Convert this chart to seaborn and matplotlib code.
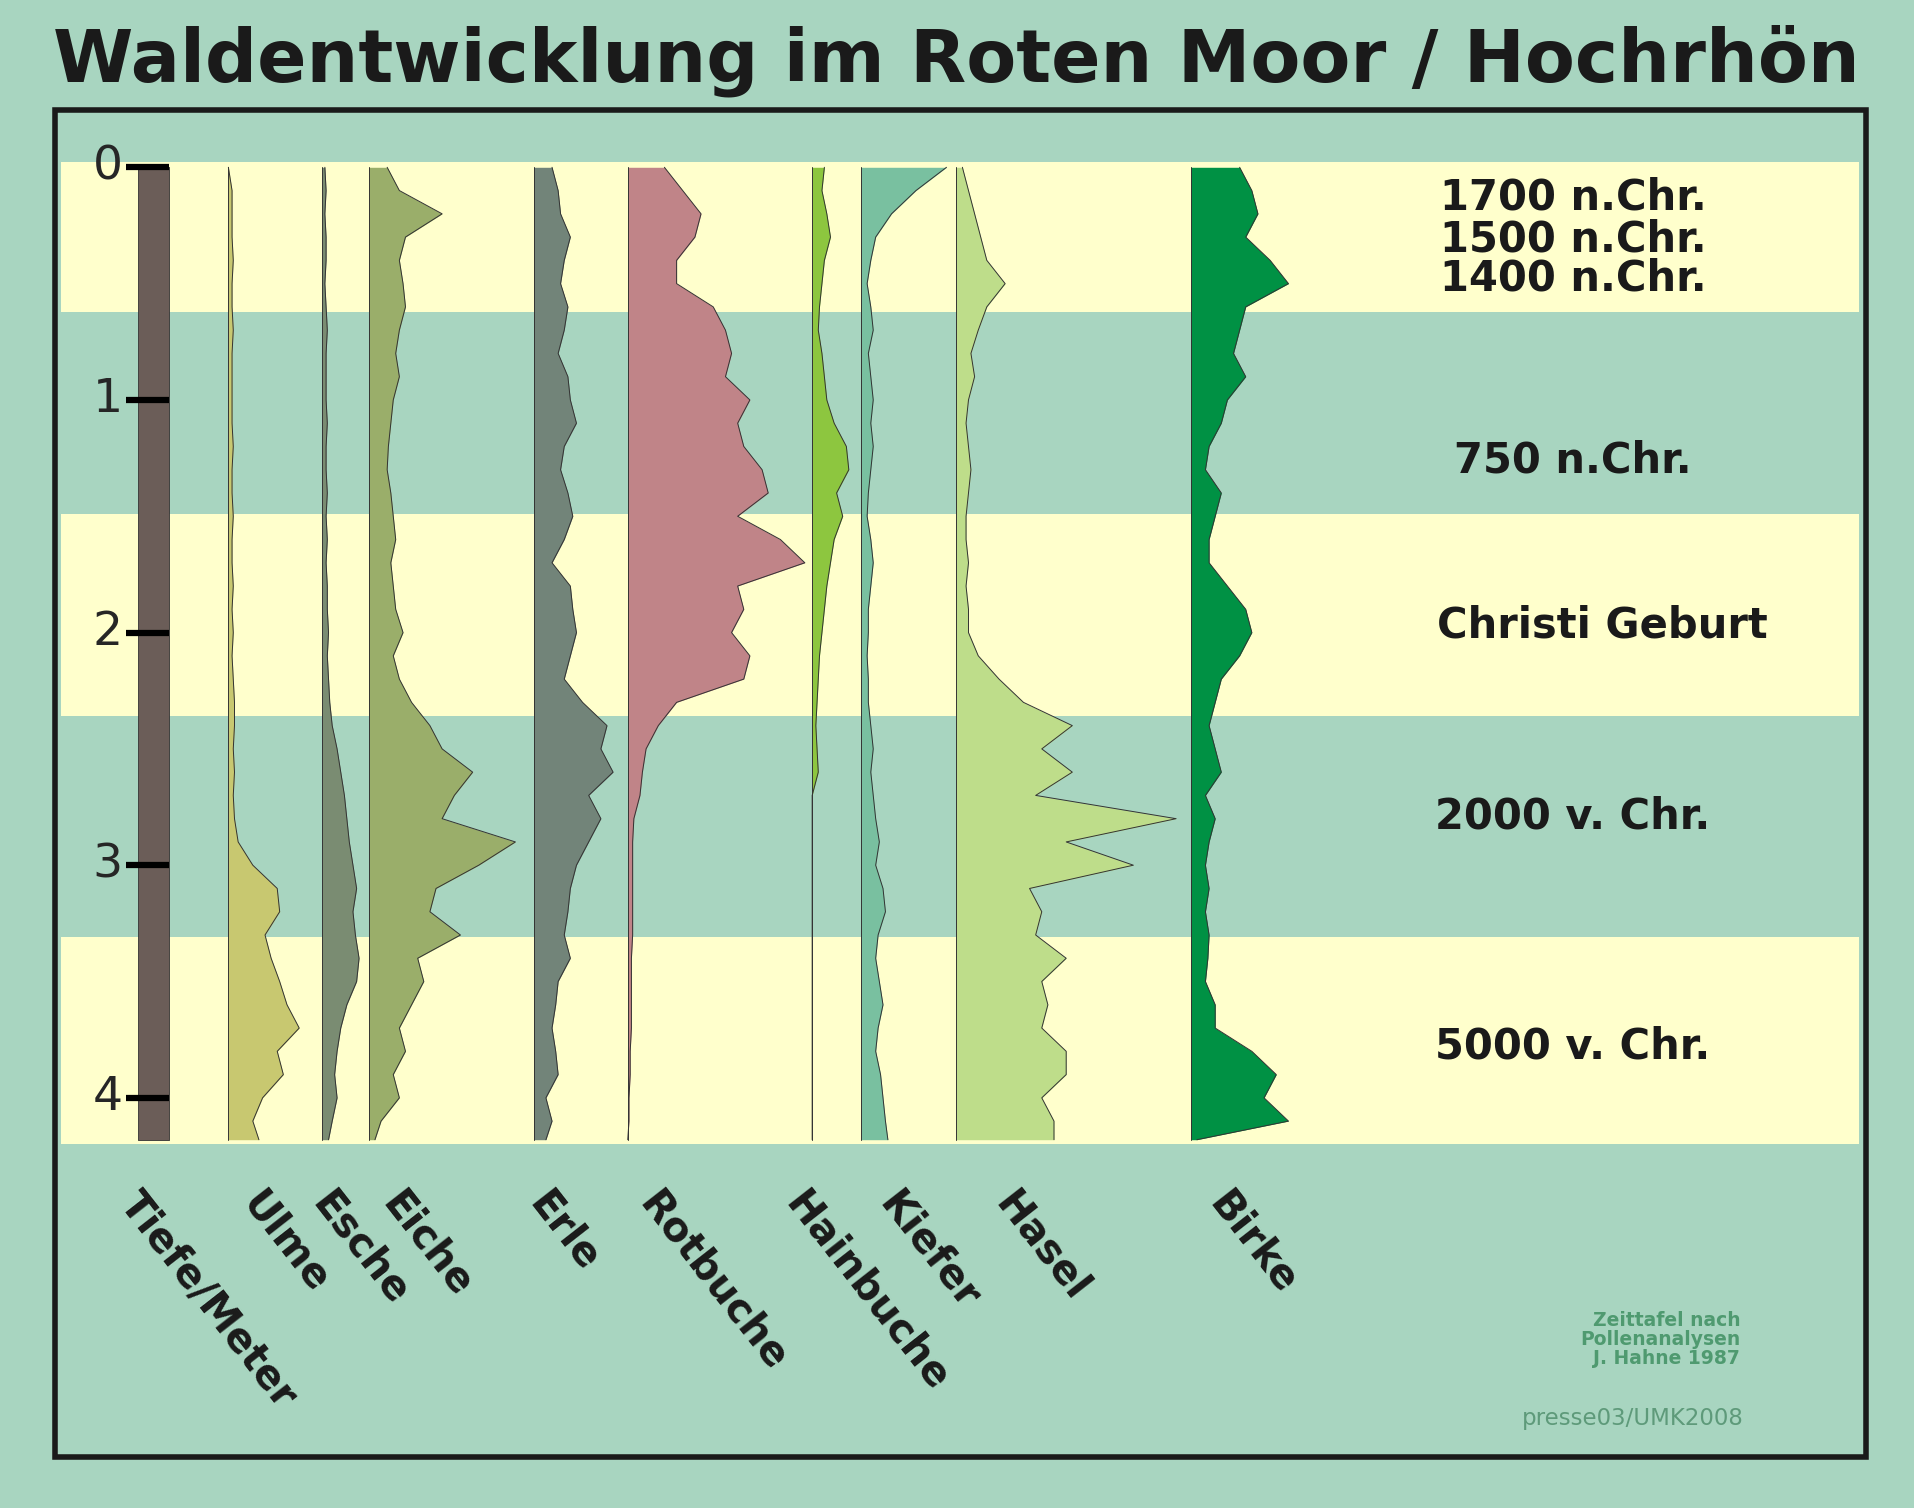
import numpy as np
import pandas as pd
import matplotlib
matplotlib.use("Agg")
import matplotlib.pyplot as plt
import seaborn as sns
from matplotlib.patches import Rectangle

sns.set_style("white")
plt.rcParams['font.family'] = ['DejaVu Sans']

depth = [round(0.1 * i, 2) for i in range(42)] + [4.18]
taxa = ["Ulme", "Esche", "Eiche", "Erle", "Rotbuche", "Hainbuche", "Kiefer", "Hasel", "Birke"]
ulme = [0,3,3,3,4,3,3,4,3,3, 3,3,4,3,3,4,3,3,4,3, 4,3,4,5,5,4,5,4,5,8, 20,40,42,30,35,42,48,58,40,45, 28,20,25]
esche = [2,3,2,3,3,2,3,4,3,3, 3,4,3,3,4,3,4,3,4,4, 5,4,5,6,8,12,15,18,20,22, 25,28,25,27,30,28,20,15,12,10, 12,8,5]
eiche = [15,25,60,30,25,28,30,25,22,25, 20,18,16,15,18,20,22,18,20,22, 28,20,25,35,50,60,85,70,60,120, 90,55,50,75,40,45,35,25,30,20, 25,10,5]
erle = [15,20,22,30,25,22,28,25,20,28, 30,35,25,22,28,32,25,15,30,32, 35,30,25,40,60,55,65,45,55,45, 35,30,28,25,30,20,18,15,18,20, 10,15,10]
rotbuche = [30,45,60,55,40,40,70,80,85,80, 100,90,95,110,115,90,125,145,90,95, 85,100,95,40,25,15,12,10,5,4, 4,4,4,4,3,3,3,3,2,2, 1,1,0]
hainbuche = [10,8,12,15,10,8,6,5,8,10, 12,18,28,30,20,25,18,15,12,10, 8,6,5,4,3,4,5] + [0]*16
kiefer = [70,45,25,12,8,5,8,10,6,8, 10,8,10,8,6,5,8,10,8,6, 6,5,6,6,8,10,8,10,12,15, 12,18,20,14,12,15,18,14,12,16, 18,20,22]
hasel = [5,10,15,20,25,40,25,18,12,15, 10,8,10,12,10,8,8,10,8,10, 10,18,35,55,95,70,95,65,180,90, 145,60,70,65,90,70,75,70,90,90, 70,80,80]
birke = [40,50,55,45,65,80,45,40,35,45, 30,25,15,12,25,20,15,15,30,45, 50,40,25,20,15,20,25,12,20,15, 12,15,12,15,14,12,20,20,50,70, 60,80,5]
values = [ulme, esche, eiche, erle, rotbuche, hainbuche, kiefer, hasel, birke]

epochs = ["1700 n.Chr.", "1500 n.Chr.", "1400 n.Chr.", "750 n.Chr.", "Christi Geburt", "2000 v. Chr.", "5000 v. Chr."]
epoch_depth = [0.13, 0.31, 0.48, 1.26, 1.97, 2.79, 3.78]
depth_ticks = [0, 1, 2, 3, 4]

baselines = [187, 264, 302, 437, 514, 665, 705, 783, 975]
colors = ["#C8C870", "#7A8C72", "#9AAE6A", "#728479", "#C08488", "#8DC63F", "#79C0A0", "#BEDD8A", "#009144"]
label_x = [205, 262, 320, 440, 530, 650, 727, 822, 997]

BG = "#A8D5C0"; YEL = "#FFFFCC"
W, H = 1568, 1235
fig = plt.figure(figsize=(19.15, 15.08), dpi=100)
fig.patch.set_facecolor(BG)
ax = fig.add_axes([50/W, 1-937/H, 1472/W, 804/H])
bands = [-0.03, 0.62, 1.49, 2.36, 3.31, 4.2]
for i in range(5):
    ax.axhspan(bands[i], bands[i+1], color=YEL if i % 2 == 0 else BG, zorder=0, lw=0)

ax.fill_betweenx([0, 4.18], 113, 138, color="#6B5D58", ec="#333333", lw=0.6, zorder=2)
ax.hlines(depth_ticks, 103, 138, color="black", lw=4.5, zorder=3)
for d in depth_ticks:
    ax.text(88, d, str(d), ha="center", va="center", fontsize=34, clip_on=False)

for name, v, x0, c in zip(taxa, values, baselines, colors):
    v = np.array(v, dtype=float)
    ax.fill_betweenx(depth, x0, x0 + v, color=c, lw=0, zorder=2)
    df = pd.DataFrame({"x": x0 + v, "d": depth})
    sns.lineplot(data=df, x="x", y="d", orient="y", sort=False, color="#333333", lw=0.7, ax=ax, zorder=3)
    ax.plot([x0, x0], [0, 4.18], color="#333333", lw=0.7, zorder=3)
ax.set_xlim(50, 1522); ax.set_ylim(4.199, -0.021); ax.axis("off")

for t, d in zip(epochs, epoch_depth):
    ax.text(1312 if t == "Christi Geburt" else 1288, d, t, ha="center", va="center", fontsize=30, fontweight="bold", color="#1a1a1a")

lbl_d = (970 - 137) / 190.5
for name, x in zip(["Tiefe/Meter"] + taxa, [105] + label_x):
    ax.text(x + 12, lbl_d, name, rotation=-52, rotation_mode="anchor", ha="left", va="top",
            fontsize=29, fontweight="bold", color="#1a1a1a", clip_on=False)

fig.text(783/W, 1-50/H, "Waldentwicklung im Roten Moor / Hochrhön", ha="center", va="center",
         fontsize=52.5, fontweight="bold", color="#1a1a1a")
fig.add_artist(Rectangle((45/W, 1-1193/H), 1483/W, 1103/H, transform=fig.transFigure,
                         fill=False, ec="#1a1a1a", lw=4))
fig.text(1425/W, 1-1097/H, "Zeittafel nach\nPollenanalysen\nJ. Hahne 1987", ha="right", va="center",
         fontsize=13.5, fontweight="bold", color="#4F9A70", linespacing=1.0)
fig.text(1428/W, 1-1162/H, "presse03/UMK2008", ha="right", va="center", fontsize=16.5, color="#5E9A7A")
fig.savefig("out.png", dpi=100, facecolor=BG)
